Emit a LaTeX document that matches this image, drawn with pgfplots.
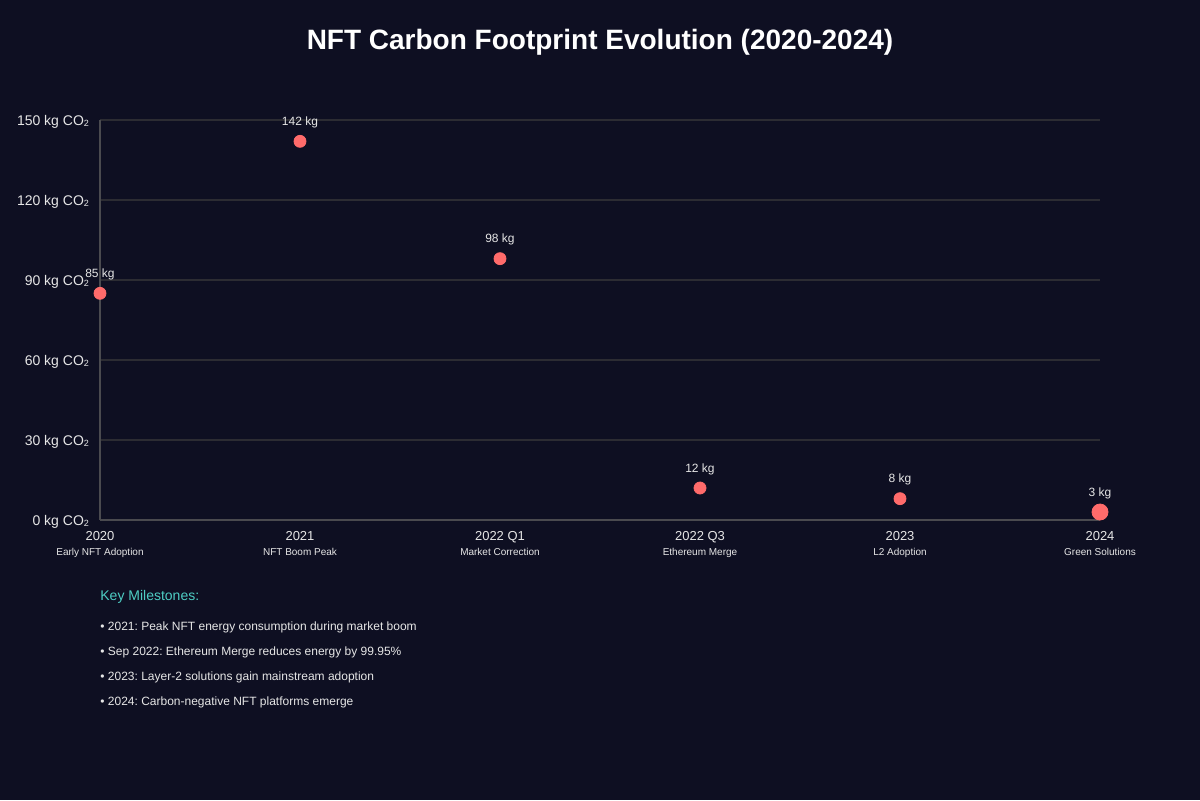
\documentclass[border=0pt]{standalone}
\usepackage{pgfplots}
\pgfplotsset{compat=1.18}
\usepackage{fontspec}
\setmainfont{Liberation Sans}
\frenchspacing
\definecolor{bgc}{HTML}{0E0F22}
\definecolor{ptc}{HTML}{FF6B6B}
\definecolor{gridc}{HTML}{2C2C33}
\definecolor{axc}{HTML}{4A4A4F}
\definecolor{txtc}{HTML}{E6E6E6}
\definecolor{tealc}{HTML}{4ECDC4}
\newcommand{\cotwo}{CO\raisebox{-0.2ex}{\fontsize{4.5}{5}\selectfont 2}}
\begin{document}
\begin{tikzpicture}
% background, 1px = 0.5pt, axis origin at pixel (100,520)
\fill[bgc] (-50pt,-140pt) rectangle (550pt,260pt);
\useasboundingbox (-50pt,-140pt) rectangle (550pt,260pt);
\begin{axis}[
  at={(0,0)}, anchor=south west,
  scale only axis,
  width=500pt, height=200pt,
  xmin=0, xmax=5, ymin=0, ymax=150,
  axis lines=left,
  axis line style={-, axc, line width=0.8pt},
  ymajorgrids,
  grid style={gridc, line width=0.8pt},
  major tick length=0pt,
  xtick={0,...,5},
  xticklabels={
    {2020\\{\fontsize{5}{6}\selectfont Early NFT Adoption}},
    {2021\\{\fontsize{5}{6}\selectfont NFT Boom Peak}},
    {2022 Q1\\{\fontsize{5}{6}\selectfont Market Correction}},
    {2022 Q3\\{\fontsize{5}{6}\selectfont Ethereum Merge}},
    {2023\\{\fontsize{5}{6}\selectfont L2 Adoption}},
    {2024\\{\fontsize{5}{6}\selectfont Green Solutions}}},
  xticklabel style={align=center, font=\fontsize{6.5}{7.5}\selectfont, text=txtc, yshift=-2pt},
  ytick={0,30,60,90,120,150},
  yticklabels={0 kg \cotwo, 30 kg \cotwo, 60 kg \cotwo,
    90 kg \cotwo, 120 kg \cotwo, 150 kg \cotwo},
  yticklabel style={font=\fontsize{7}{8}\selectfont, text=txtc, xshift=-2pt, yshift=-0.8pt},
  clip=false,
  nodes near coords,
  point meta=explicit symbolic,
  every node near coord/.append style={anchor=center, yshift=9.5pt, font=\fontsize{6}{7}\selectfont, text=txtc},
]
\addplot[only marks, mark=*, mark size=3pt, ptc, mark options={draw=ptc, fill=ptc}]
  coordinates {(0,85)[85 kg] (1,142)[142 kg] (2,98)[98 kg] (3,12)[12 kg] (4,8)[8 kg]};
\addplot[only marks, mark=*, mark size=4pt, ptc, mark options={draw=ptc, fill=ptc}]
  coordinates {(5,3)[3 kg]};
\end{axis}
\node[text=white, font=\fontsize{14}{17}\selectfont\bfseries] at (250pt,239pt) {NFT Carbon Footprint Evolution (2020-2024)};
\node[anchor=west, inner sep=0pt, text=tealc, font=\fontsize{7}{8}\selectfont] at (0pt,-38.5pt) {Key Milestones:};
\begin{scope}[every node/.style={anchor=west, inner sep=0pt, text=txtc, font=\fontsize{6}{7}\selectfont}]
\node at (0pt,-53.5pt) {\textbullet\ 2021: Peak NFT energy consumption during market boom};
\node at (0pt,-66pt) {\textbullet\ Sep 2022: Ethereum Merge reduces energy by 99.95\%};
\node at (0pt,-78.5pt) {\textbullet\ 2023: Layer-2 solutions gain mainstream adoption};
\node at (0pt,-91pt) {\textbullet\ 2024: Carbon-negative NFT platforms emerge};
\end{scope}
\end{tikzpicture}
\end{document}
